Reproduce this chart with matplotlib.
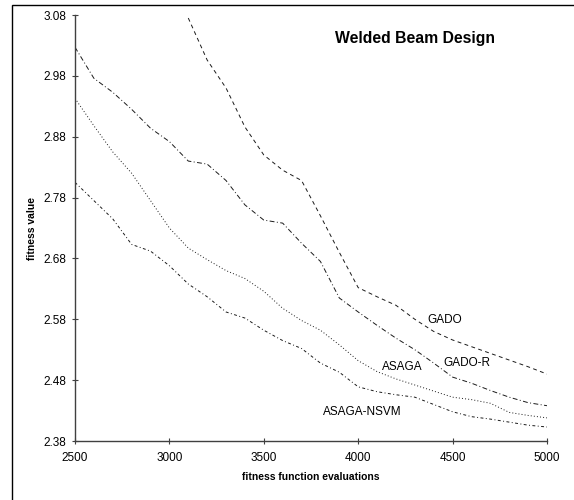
import matplotlib
matplotlib.use("Agg")
import matplotlib.pyplot as plt
from matplotlib.patches import Rectangle

plt.rcParams['font.family'] = ['Liberation Sans', 'DejaVu Sans']

evals = [2500, 2600, 2700, 2800, 2900, 3000, 3100, 3200, 3300, 3400, 3500, 3600, 3700,
         3800, 3900, 4000, 4100, 4200, 4300, 4400, 4500, 4600, 4700, 4800, 4900, 5000]

gado_x = evals[6:]
gado = [3.075, 3.006, 2.960, 2.896, 2.850, 2.825, 2.808,
        2.750, 2.690, 2.632, 2.617, 2.603, 2.580, 2.560, 2.546, 2.535, 2.524, 2.513, 2.502, 2.490]
gado_r = [3.027, 2.976, 2.953, 2.925, 2.894, 2.872, 2.840, 2.835, 2.808, 2.768, 2.743, 2.738, 2.705,
          2.675, 2.615, 2.592, 2.570, 2.549, 2.530, 2.508, 2.485, 2.475, 2.463, 2.452, 2.443, 2.438]
asaga = [2.943, 2.898, 2.855, 2.820, 2.775, 2.730, 2.697, 2.678, 2.660, 2.647, 2.626, 2.598, 2.578,
         2.562, 2.538, 2.512, 2.494, 2.482, 2.472, 2.462, 2.452, 2.448, 2.442, 2.427, 2.422, 2.418]
asaga_nsvm = [2.805, 2.775, 2.745, 2.703, 2.692, 2.668, 2.638, 2.617, 2.592, 2.582, 2.562, 2.545, 2.532,
              2.508, 2.493, 2.469, 2.461, 2.456, 2.452, 2.440, 2.428, 2.420, 2.416, 2.411, 2.406, 2.403]

xticks = [2500, 3000, 3500, 4000, 4500, 5000]
yticks = [2.38, 2.48, 2.58, 2.68, 2.78, 2.88, 2.98, 3.08]

W, H = 574, 500
fig = plt.figure(figsize=(W / 100, H / 100), dpi=100)
ax = fig.add_axes([75 / W, 1 - 441 / H, (547 - 75) / W, (441 - 15) / H])

lw = 0.7
col = '#1a1a1a'
ax.plot(gado_x, gado, color=col, lw=lw, linestyle=(0, (4, 3.5)))
ax.plot(evals, gado_r, color=col, lw=lw, linestyle=(0, (5, 2.5, 1, 2.5)))
ax.plot(evals, asaga, color=col, lw=lw, linestyle=(0, (1, 2.2)))
ax.plot(evals, asaga_nsvm, color=col, lw=lw, linestyle=(0, (3, 2.5, 1, 2.5)))

ax.set_xlim(2500, 5000)
ax.set_ylim(2.38, 3.08)
ax.set_xticks(xticks)
ax.set_yticks(yticks)
ax.set_xticklabels([str(v) for v in xticks])
ax.set_yticklabels([f"{v:.2f}" for v in yticks])
ax.tick_params(direction='inout', length=4, width=0.8, labelsize=8.5, colors='#404040',
               labelcolor='black')
ax.tick_params(axis='x', pad=6)
ax.tick_params(axis='y', pad=4)
for s in ['top', 'right']:
    ax.spines[s].set_visible(False)
for s in ['left', 'bottom']:
    ax.spines[s].set_color('#404040')
    ax.spines[s].set_linewidth(1.0)

ax.set_xlabel('fitness function evaluations', fontsize=7.5, fontweight='bold')
ax.xaxis.set_label_coords(0.5, -(477 - 441) / 426)
ax.xaxis.label.set_va('center')
ax.set_ylabel('fitness value', fontsize=7.5, fontweight='bold')
ax.yaxis.set_label_coords(-(75 - 32) / 472, 0.5)
ax.yaxis.label.set_va('center')

def fx(px):
    return px / W

def fy(py):
    return 1 - py / H

fig.text(fx(415), fy(38), 'Welded Beam Design', fontsize=11.3, fontweight='bold',
         ha='center', va='center')
fig.text(fx(445), fy(320), 'GADO', fontsize=8.5, ha='center', va='center')
fig.text(fx(467), fy(363), 'GADO-R', fontsize=8.5, ha='center', va='center')
fig.text(fx(402), fy(367), 'ASAGA', fontsize=8.5, ha='center', va='center')
fig.text(fx(362), fy(412), 'ASAGA-NSVM', fontsize=8.5, ha='center', va='center')

fig.patches.append(Rectangle((fx(12), fy(520)), fx(600), (520 - 5) / H, transform=fig.transFigure,
                             fill=False, edgecolor='black', lw=1.0, figure=fig))

fig.savefig('out.png', dpi=100)
